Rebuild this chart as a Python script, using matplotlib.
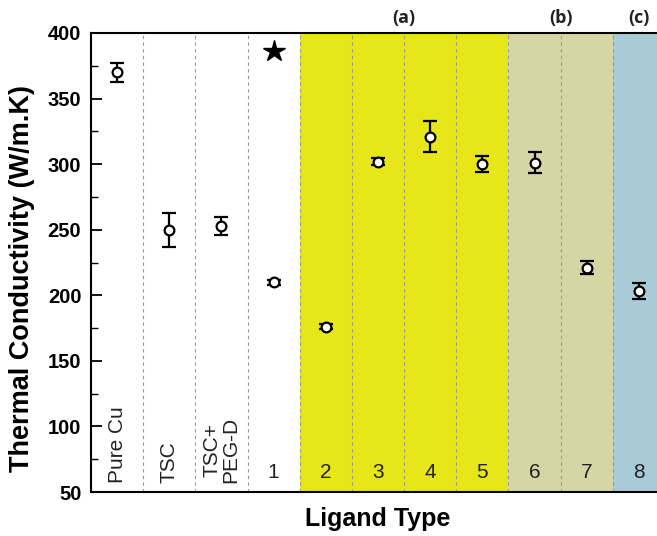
import numpy as np
import matplotlib.pyplot as plt
from matplotlib.ticker import MultipleLocator

plt.rcParams['font.family'] = ['Liberation Sans', 'DejaVu Sans']

# data
labels = ["Pure Cu", "TSC", "TSC+\nPEG-D", "1", "2", "3", "4", "5", "6", "7", "8"]
tc = [370, 250, 253, 210, 176, 302, 321, 300, 301, 221, 203]
err = [7, 13, 7, 2, 2, 3, 12, 6, 8, 5, 6]
star_pos = 3
star_val = 386

# shaded groups: (first column, last column, colour, label)
groups = [(4, 7, "#e6e618", "(a)"), (8, 9, "#d5d6a3", "(b)"), (10, 10, "#a8cbd7", "(c)")]

fig = plt.figure(figsize=(6.57, 5.36), dpi=100)
ax = fig.add_axes([91 / 657, 44 / 536, 574 / 657, 459 / 536])

x = np.arange(len(labels)) + 0.5
ax.set_xlim(0, len(labels))
ax.set_ylim(50, 400)

for g0, g1, col, name in groups:
    ax.axvspan(g0, g1 + 1, color=col, lw=0, zorder=0)
    ax.text((g0 + g1 + 1) / 2, 1.012, name, transform=ax.get_xaxis_transform(),
            ha="center", va="bottom", fontsize=13, fontweight="bold",
            family=["Open Sans", "DejaVu Sans"], color="#222222")

for i in range(1, len(labels)):
    ax.axvline(i, color="#999999", ls=(0, (3, 3)), lw=0.8, zorder=1)

ax.errorbar(x, tc, yerr=err, fmt="o", mfc="white", mec="black", mew=1.6,
            ms=7, ecolor="black", elinewidth=1.6, capsize=4.7, capthick=1.6, zorder=3)
ax.plot(x[star_pos], star_val, marker="*", color="black", ms=16, ls="none", zorder=3)

for xi, lab in zip(x, labels):
    if lab[0].isdigit():
        ax.text(xi, 58, lab, ha="center", va="bottom", fontsize=15, color="#222222")
    else:
        ax.text(xi, 57, lab, ha="center", va="bottom", rotation=90, fontsize=15,
                color="#222222", linespacing=0.95)

ax.set_xticks([])
ax.yaxis.set_major_locator(MultipleLocator(50))
ax.yaxis.set_minor_locator(MultipleLocator(25))
ax.tick_params(axis="y", which="major", direction="in", length=8, width=1.3,
               labelsize=14.5, pad=7)
ax.tick_params(axis="y", which="minor", direction="in", length=5, width=1.0)
for lab in ax.get_yticklabels():
    lab.set_fontweight("bold")
for s in ax.spines.values():
    s.set_linewidth(1.5)

ax.set_ylabel("Thermal Conductivity (W/m.K)", fontsize=19.5, fontweight="bold")
ax.yaxis.set_label_coords(-0.097, 0.465)
ax.set_xlabel("Ligand Type", fontsize=18, fontweight="bold", labelpad=11)

fig.savefig("out.png", dpi=100)
